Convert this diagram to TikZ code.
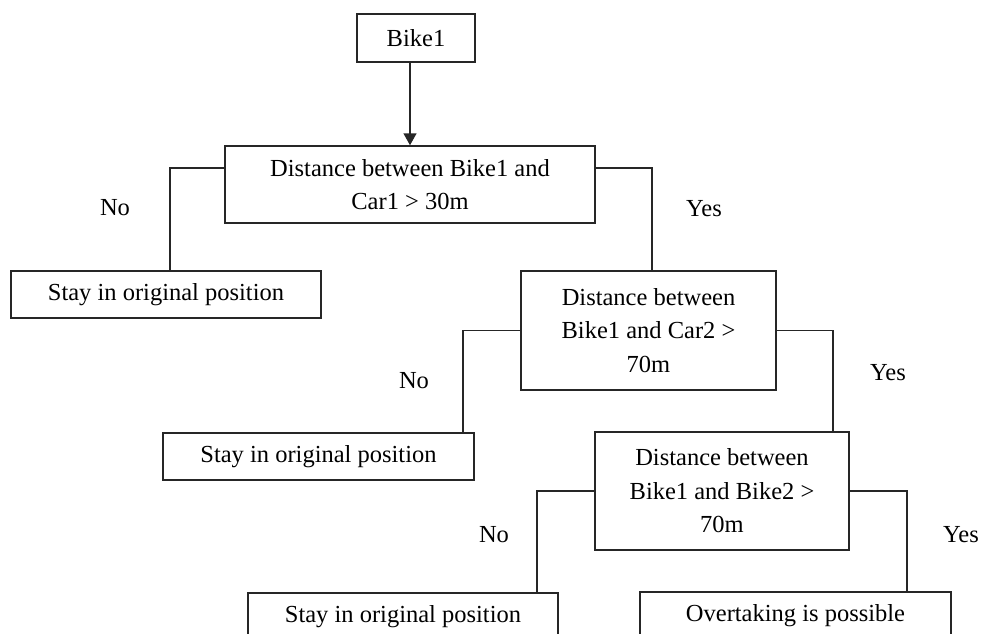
\documentclass[tikz,border=0pt]{standalone}
\usepackage{fontspec}
\setmainfont{Liberation Serif}
\usetikzlibrary{arrows.meta}
\begin{document}
\begin{tikzpicture}[x=1pt,y=-1pt,
  box/.style={draw=black!85,line width=1.5pt,rectangle,align=center,inner sep=0pt,
    font=\fontsize{24.5}{33.5}\selectfont},
  lbl/.style={font=\fontsize{24.5}{33.5}\selectfont,inner sep=0pt},
  conn/.style={draw=black!85,line width=1.5pt}]
\path[use as bounding box,fill=white] (0,0) rectangle (981,633);
\clip (0,0) rectangle (981,633);
\node[box,minimum width=118pt,minimum height=48pt] (bike) at (416,38) {Bike1};
\node[box,minimum width=370pt,minimum height=77pt] (d1) at (410,184.5) {Distance between Bike1 and\\Car1 > 30m};
\node[box,minimum width=310pt,minimum height=47pt] (no1) at (166,294.5) {Stay in original position};
\node[box,minimum width=255pt,minimum height=119pt] (d2) at (648.5,330.5) {Distance between\\Bike1 and Car2 >\\70m};
\node[box,minimum width=311pt,minimum height=47pt] (no2) at (318.5,456.5) {Stay in original position};
\node[box,minimum width=254pt,minimum height=118pt] (d3) at (722,491) {Distance between\\Bike1 and Bike2 >\\70m};
\node[box,minimum width=310pt,minimum height=47pt] (no3) at (403,616.5) {Stay in original position};
\node[box,minimum width=311pt,minimum height=47pt] (yes3) at (795.5,615.5) {Overtaking is possible};

\draw[conn,-{Triangle[width=13pt,length=12pt]}] (d1.north |- bike.south) -- (d1.north);
\draw[conn] ([yshift=16.5pt]d1.west) -| ([xshift=4pt]no1.north);
\draw[conn] ([yshift=16.5pt]d1.east) -| ([xshift=3.5pt]d2.north);
\draw[conn] (d2.west) -| ([xshift=144.5pt]no2.north);
\draw[conn] (d2.east) -| ([xshift=111pt]d3.north);
\draw[conn] (d3.west) -| ([xshift=134pt]no3.north);
\draw[conn] (d3.east) -| ([xshift=111.5pt]yes3.north);

\node[lbl] (l1) at (115,208) {No};
\node[lbl] (l2) at (704,209) {Yes};
\node[lbl] (l3) at (414,381) {No};
\node[lbl] (l4) at (888,373) {Yes};
\node[lbl] (l5) at (494,535) {No};
\node[lbl] (l6) at (961,535) {Yes};
\end{tikzpicture}
\end{document}
